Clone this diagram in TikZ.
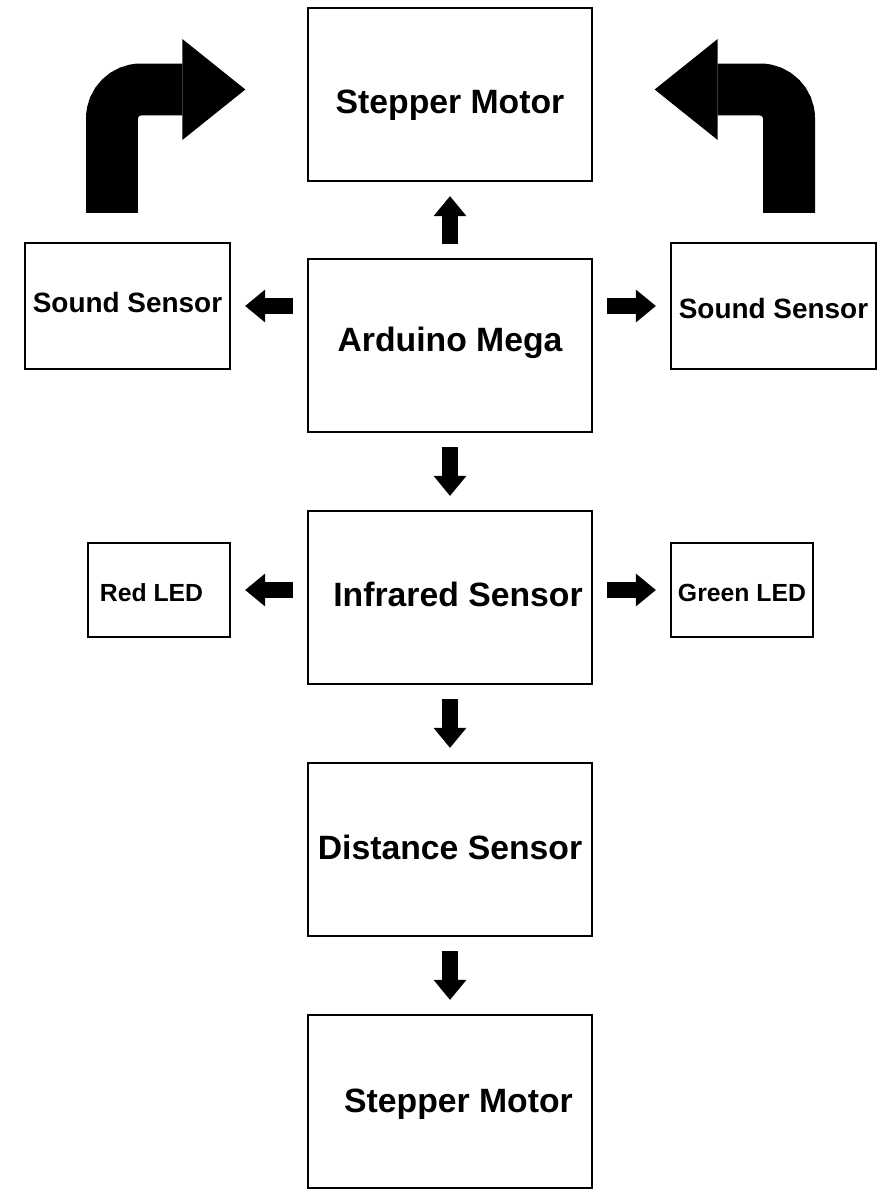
\documentclass[tikz,border=0pt]{standalone}
\usepackage{fontspec}
\setmainfont{Liberation Sans}
\usetikzlibrary{arrows.meta,positioning}

\begin{document}
\begin{tikzpicture}[
  x=0.02cm, y=-0.02cm,
  bigbox/.style={
    draw=black, line width=0.8pt,
    minimum width=5.68cm, minimum height=3.46cm, text depth=0pt,
    font=\fontsize{19.2}{23}\selectfont\bfseries, align=center, inner sep=0pt
  },
  sensbox/.style={bigbox, minimum width=4.1cm, minimum height=2.52cm,
    font=\fontsize{15.9}{19}\selectfont\bfseries},
  ledbox/.style={bigbox, minimum width=2.84cm, minimum height=1.88cm,
    font=\fontsize{14.1}{17}\selectfont\bfseries},
  blkarrow/.style={-{Triangle[length=0.4cm, width=0.66cm, line width=0pt]},
    line width=0.32cm, shorten <=0.29cm, shorten >=0.29cm},
  turnarrow/.style={-{Triangle[length=1.26cm, width=2.02cm, line width=0pt]},
    line width=1.04cm, rounded corners=0.58cm, shorten >=1.24cm}
]
\useasboundingbox (0,0) rectangle (892,1189);
\node[bigbox, text height=0.746cm] (top) at (450,94.5) {Stepper Motor};
\node[bigbox, text height=0.246cm] (ard) at (450,345.5) {Arduino Mega};
\node[sensbox, text height=0.26cm] (snsl) at (127.5,306) {Sound Sensor};
\node[sensbox, text height=0.5cm] (snsr) at (773.5,306) {Sound Sensor};
\node[bigbox, text height=0.366cm] (ir) at (450,597.5) {\hspace*{0.32cm}Infrared Sensor};
\node[ledbox, text height=0.456cm] (red) at (159,590) {Red LED\hspace*{0.3cm}};
\node[ledbox, text height=0.456cm] (green) at (742,590) {Green LED};
\node[bigbox, text height=0.406cm] (dist) at (450,849.5) {Distance Sensor};
\node[bigbox, text height=0.426cm] (bot) at (450,1101.5) {\hspace*{0.34cm}Stepper Motor};
\coordinate (tl) at (112,213);
\coordinate (tr) at (789,213);
\draw[blkarrow] (ard) -- (top);
\draw[blkarrow] (ard) -- (ir);
\draw[blkarrow] (ir) -- (dist);
\draw[blkarrow] (dist) -- (bot);
\draw[blkarrow] (ard.west |- snsl.east) -- (snsl.east);
\draw[blkarrow] (ard.east |- snsr.west) -- (snsr.west);
\draw[blkarrow] (ir.west |- red.east) -- (red.east);
\draw[blkarrow] (ir.east |- green.west) -- (green.west);
\draw[turnarrow] (tl) |- ([yshift=0.1cm]top.west);
\draw[turnarrow] (tr) |- ([yshift=0.1cm]top.east);
\end{tikzpicture}
\end{document}
